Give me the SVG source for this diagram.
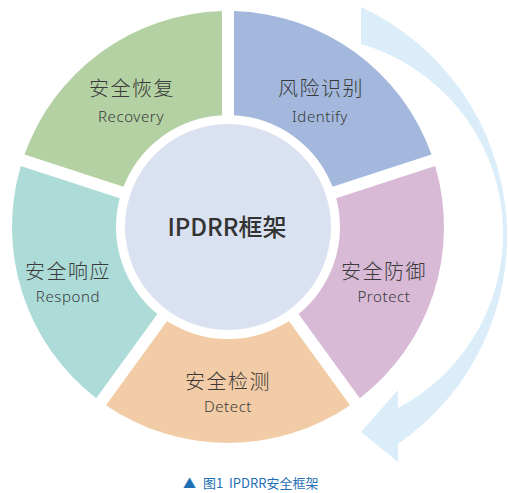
<svg xmlns="http://www.w3.org/2000/svg" width="508" height="493" viewBox="0 0 508 493">
<style>
.zh{font-family:"Noto Sans CJK SC","Noto Sans",sans-serif;font-size:20px;font-weight:300;fill:#3a3a3a;text-anchor:middle;letter-spacing:1.5px}
.en{font-family:"Noto Sans","Open Sans",sans-serif;font-size:15px;font-weight:300;fill:#3a3a3a;text-anchor:middle;letter-spacing:0.6px}
.title{font-family:"Noto Sans CJK SC","Noto Sans",sans-serif;font-size:24px;font-weight:500;fill:#333333;text-anchor:middle}
.cap{font-family:"Noto Sans CJK SC","Noto Sans",sans-serif;font-size:13px;fill:#1f6fb5}
</style>
<rect width="508" height="493" fill="#ffffff"/>
<g id="connectors">
<path d="M361,7 A252.7,252.7 0 0 1 398,444 L398,462 L361,432 L398,390 L398,408 A197.4,197.4 0 0 0 361,44 Z" fill="#daedf9"/>
</g>
<g id="identify">
<path d="M234,11.08 A216,216 0 0 1 431.5,154.57 L332.51,186.73 A112,112 0 0 0 234,115.16 Z" fill="#a3b8dc"/>
<text class="zh" x="321" y="96">风险识别</text>
<text class="en" x="320" y="122">Identify</text>
</g>
<g id="protect">
<path d="M435.2,165.98 A216,216 0 0 1 359.77,398.16 L298.59,313.95 A112,112 0 0 0 336.22,198.15 Z" fill="#d8b9d6"/>
<text class="zh" x="384" y="279">安全防御</text>
<text class="en" x="384" y="302">Protect</text>
</g>
<g id="detect">
<path d="M350.07,405.21 A216,216 0 0 1 105.93,405.21 L167.11,321.01 A112,112 0 0 0 288.88,321.01 Z" fill="#f2cca6"/>
<text class="zh" x="228" y="389">安全检测</text>
<text class="en" x="228" y="412">Detect</text>
</g>
<g id="respond">
<path d="M96.23,398.16 A216,216 0 0 1 20.8,165.98 L119.78,198.15 A112,112 0 0 0 157.41,313.95 Z" fill="#addcd8"/>
<text class="zh" x="68" y="279">安全响应</text>
<text class="en" x="68" y="302">Respond</text>
</g>
<g id="recovery">
<path d="M24.5,154.57 A216,216 0 0 1 222,11.08 L222,115.16 A112,112 0 0 0 123.49,186.73 Z" fill="#b3d1a3"/>
<text class="zh" x="132" y="96">安全恢复</text>
<text class="en" x="131" y="122">Recovery</text>
</g>
<g id="center">
<circle cx="228" cy="227" r="103" fill="#dae1f0"/>
<text class="title" x="227" y="236">IPDRR框架</text>
</g>
<g id="caption">
<text class="cap" x="183" y="488" font-size="12">▲</text>
<text class="cap" x="203" y="488" xml:space="preserve">图1  IPDRR安全框架</text>
</g>
</svg>
